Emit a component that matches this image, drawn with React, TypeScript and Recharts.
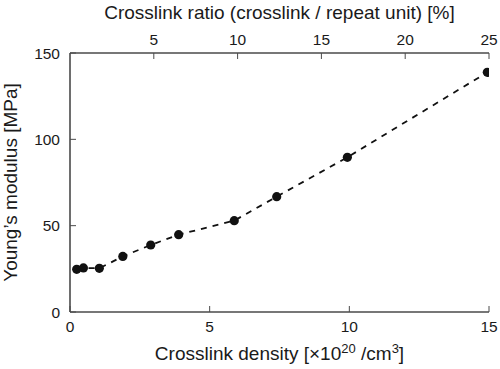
import { LineChart, Line, XAxis, YAxis, Label } from 'recharts'

// crosslink density [x10^20 /cm^3] vs Young's modulus [MPa]
const density = [0.24, 0.48, 1.05, 1.89, 2.89, 3.89, 5.88, 7.4, 9.93, 14.94]
const modulus = [24.7, 25.5, 25.3, 32.2, 38.8, 44.8, 52.9, 66.8, 89.6, 138.8]

const bottomTicks = [0, 5, 10, 15]
const topTicks = [5, 10, 15, 20, 25]
const leftTicks = [0, 50, 100, 150]
const rightTicks = [50, 100]

const data = density.map((x, i) => ({ x, y: modulus[i] }))

const FONT = '"Liberation Sans", Arial, Helvetica, sans-serif'
const INK = '#1a1a1a'
const AXIS = '#4a4a4a'
const tickStyle = { fontSize: 15.5, fill: INK, fontFamily: FONT }

const Dot = ({ cx, cy, index }: any) => (
  <circle key={index} cx={cx} cy={cy} r={4.6} fill="#111" />
)

const BottomTitle = ({ viewBox }: any) => {
  const cx = viewBox.x + viewBox.width / 2
  return (
    <text x={cx} y={viewBox.y + 48} textAnchor="middle" fontSize={19} fill={INK} fontFamily={FONT}>
      <tspan>Crosslink density [×10</tspan>
      <tspan dy={-7.5} fontSize={13}>20</tspan>
      <tspan dy={7.5}> /cm</tspan>
      <tspan dy={-7.5} fontSize={13}>3</tspan>
      <tspan dy={7.5}>]</tspan>
    </text>
  )
}

const TopTitle = ({ viewBox }: any) => (
  <text
    x={viewBox.x + viewBox.width / 2}
    y={18.5}
    textAnchor="middle"
    fontSize={19}
    fill={INK}
    fontFamily={FONT}
  >
    Crosslink ratio (crosslink / repeat unit) [%]
  </text>
)

const LeftTitle = ({ viewBox }: any) => {
  const cy = viewBox.y + viewBox.height / 2
  return (
    <text
      x={17}
      y={cy}
      transform={`rotate(-90 17 ${cy})`}
      textAnchor="middle"
      fontSize={19}
      fill={INK}
      fontFamily={FONT}
    >
      Young’s modulus [MPa]
    </text>
  )
}

export default function App() {
  return (
    <div style={{ position: 'absolute', left: 0, top: 0, width: 500, height: 369, background: '#fff' }}>
      <LineChart width={500} height={369} data={data} margin={{ top: 0, right: 11, bottom: 0, left: 0 }}>
        <XAxis
          xAxisId="bottom"
          dataKey="x"
          type="number"
          domain={[0, 15]}
          allowDataOverflow
          ticks={bottomTicks}
          interval={0}
          height={57}
          tickSize={-6}
          tickMargin={15}
          tick={tickStyle}
          axisLine={{ stroke: AXIS, strokeWidth: 1.6 }}
          tickLine={{ stroke: AXIS }}
        >
          <Label content={<BottomTitle />} />
        </XAxis>
        <XAxis
          xAxisId="top"
          orientation="top"
          dataKey="x"
          type="number"
          domain={[0, 25]}
          allowDataOverflow
          ticks={topTicks}
          interval={0}
          height={53}
          tickSize={-6}
          tickMargin={14}
          tick={tickStyle}
          axisLine={{ stroke: AXIS, strokeWidth: 1.6 }}
          tickLine={{ stroke: AXIS }}
        >
          <Label content={<TopTitle />} />
        </XAxis>
        <YAxis
          yAxisId="left"
          dataKey="y"
          type="number"
          domain={[0, 150]}
          allowDataOverflow
          ticks={leftTicks}
          interval={0}
          width={70}
          tickSize={-6}
          tickMargin={16}
          tick={tickStyle}
          axisLine={{ stroke: AXIS, strokeWidth: 1.6 }}
          tickLine={{ stroke: AXIS }}
        >
          <Label content={<LeftTitle />} />
        </YAxis>
        <YAxis
          yAxisId="right"
          orientation="right"
          dataKey="y"
          type="number"
          domain={[0, 150]}
          allowDataOverflow
          ticks={rightTicks}
          interval={0}
          width={0}
          tickSize={-6}
          tickFormatter={() => ''}
          axisLine={{ stroke: AXIS, strokeWidth: 1.6 }}
          tickLine={{ stroke: AXIS }}
        />
        <Line
          xAxisId="bottom"
          yAxisId="left"
          dataKey="y"
          type="linear"
          stroke="#111"
          strokeWidth={1.8}
          strokeDasharray="6 6"
          dot={<Dot />}
          activeDot={false}
          isAnimationActive={false}
        />
      </LineChart>
    </div>
  )
}
